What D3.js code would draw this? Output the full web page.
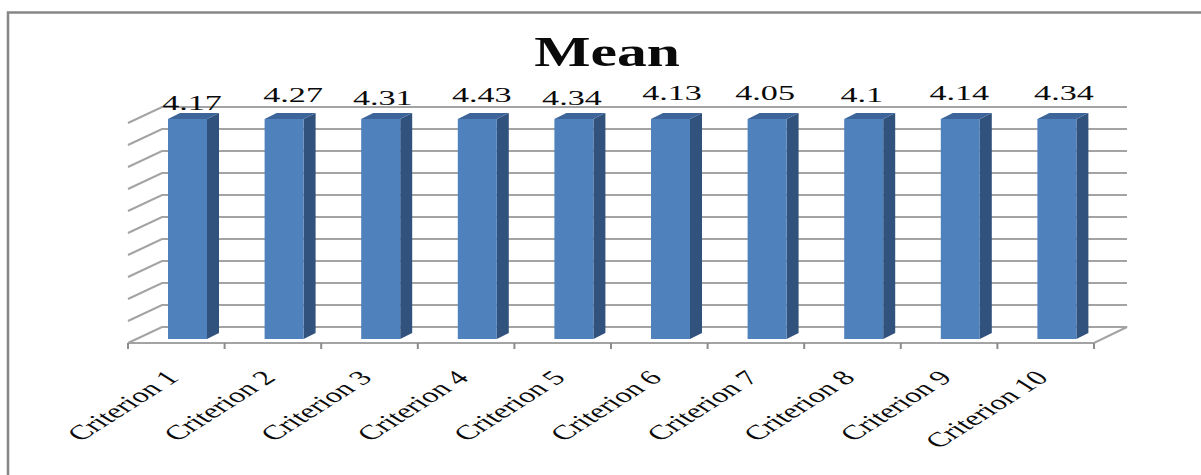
<!DOCTYPE html>
<html>
<head>
<meta charset="utf-8">
<title>Mean</title>
<script src="https://cdnjs.cloudflare.com/ajax/libs/d3/7.8.5/d3.min.js"></script>
<style>
html, body { margin: 0; padding: 0; background: #fff; }
svg { display: block; }
text { font-family: "Liberation Serif", serif; fill: #0a0a0a; }
</style>
</head>
<body>
<svg id="chart" width="1201" height="475"></svg>
<script>
// Chart content
const chartTitle = "Mean";
const categories = ["Criterion 1", "Criterion 2", "Criterion 3", "Criterion 4", "Criterion 5",
                    "Criterion 6", "Criterion 7", "Criterion 8", "Criterion 9", "Criterion 10"];
const meanValues = [4.17, 4.27, 4.31, 4.43, 4.34, 4.13, 4.05, 4.1, 4.14, 4.34];

// The value axis stops at 1, so every column runs to the top of the wall
const axisMin = 0;
const axisMax = 1;
const axisStep = 0.1;

// Hand placement of the data labels, relative to each column's centre and top
const labelNudgeX = [4.5, 9, 2, 4.5, -2, 1.5, -2, -2, -1, 7];
const labelNudgeY = [-9, -17, -14, -17, -14, -19, -19, -17, -19, -19];

// Geometry of the pseudo-3D plot box
const frontLeft = 128, frontRight = 1094, floorFront = 343;
const wallTop = 107, wallBottom = 327;
const depthX = 34, depthY = 16;
const barWidth = 39, barInset = 40, barDepthX = 12, barDepthY = 6, barForward = 12;
const gridColor = "#a3a3a3", axisColor = "#8c8c8c";
const stretch = 1.55;

const svg = d3.select("#chart");

const xScale = d3.scaleBand().domain(categories).range([frontLeft, frontRight]);
const yScale = d3.scaleLinear().domain([axisMin, axisMax]).range([wallBottom, wallTop]).clamp(true);
const gridValues = d3.range(0, 10).map(i => axisMin + (i + 1) * axisStep);

// Outer frame: only the top and left edges fall inside the canvas
svg.append("path")
  .attr("d", d3.line()([[8, 475], [8, 12.5], [1201, 12.5]]))
  .attr("fill", "none").attr("stroke", "#868686").attr("stroke-width", 2.5);

// Back wall gridlines and their returns down the left side
const grid = svg.append("g").attr("fill", "none").attr("stroke", gridColor).attr("stroke-width", 2);
grid.selectAll("path.wall").data(gridValues).join("path")
  .attr("class", "wall")
  .attr("d", v => d3.line()([
    [frontLeft, yScale(v) + depthY],
    [frontLeft + depthX, yScale(v)],
    [frontRight + depthX - 1, yScale(v)]
  ]));

// Floor
svg.append("path")
  .attr("d", d3.line()([
    [frontLeft, floorFront],
    [frontLeft + depthX, yScale(axisMin)],
    [frontRight + depthX - 1, yScale(axisMin)],
    [frontRight, floorFront],
    [frontLeft, floorFront]
  ]))
  .attr("fill", "none").attr("stroke", gridColor).attr("stroke-width", 2);

// Category axis ticks sit on the band edges
const edges = categories.map(c => xScale(c)).concat(frontRight);
svg.append("g").selectAll("line").data(edges).join("line")
  .attr("x1", d => d).attr("x2", d => d)
  .attr("y1", floorFront).attr("y2", floorFront + 6)
  .attr("stroke", axisColor).attr("stroke-width", 2);

// Columns: front, side and top faces
const bars = svg.append("g").selectAll("g")
  .data(categories.map((c, i) => ({ c, v: meanValues[i], i })))
  .join("g");

const barLeft = d => xScale(d.c) + barInset;
const barTop = d => yScale(d.v) + barForward;
const barBase = yScale(axisMin) + barForward;

bars.append("path").attr("fill", "#31527d")
  .attr("d", d => d3.line()([
    [barLeft(d) + barWidth, barTop(d)],
    [barLeft(d) + barWidth + barDepthX, barTop(d) - barDepthY],
    [barLeft(d) + barWidth + barDepthX, barBase - barDepthY],
    [barLeft(d) + barWidth, barBase]
  ]) + "Z");

bars.append("path").attr("fill", "#3d659a")
  .attr("d", d => d3.line()([
    [barLeft(d), barTop(d)],
    [barLeft(d) + barDepthX, barTop(d) - barDepthY],
    [barLeft(d) + barWidth + barDepthX, barTop(d) - barDepthY],
    [barLeft(d) + barWidth, barTop(d)]
  ]) + "Z");

bars.append("rect").attr("fill", "#4f81bd")
  .attr("x", barLeft).attr("y", barTop)
  .attr("width", barWidth).attr("height", d => barBase - barTop(d));

// Data labels
bars.append("text")
  .attr("text-anchor", "middle")
  .attr("font-size", 22)
  .attr("transform", d =>
    `translate(${barLeft(d) + barWidth / 2 + labelNudgeX[d.i]},${barTop(d) + labelNudgeY[d.i]}) scale(${stretch},1)`)
  .text(d => d.v);

// Category labels, slanted
svg.append("g").selectAll("text").data(categories).join("text")
  .attr("text-anchor", "end")
  .attr("font-size", 20.5)
  .attr("transform", c =>
    `translate(${xScale(c) + xScale.bandwidth() / 2 + 4},${floorFront + 36}) scale(1.58,1) rotate(-45)`)
  .text(c => c);

// Title
svg.append("text")
  .attr("text-anchor", "middle")
  .attr("font-size", 42)
  .attr("font-weight", "bold")
  .attr("transform", "translate(607,66) scale(1.42,1)")
  .text(chartTitle);
</script>
</body>
</html>
